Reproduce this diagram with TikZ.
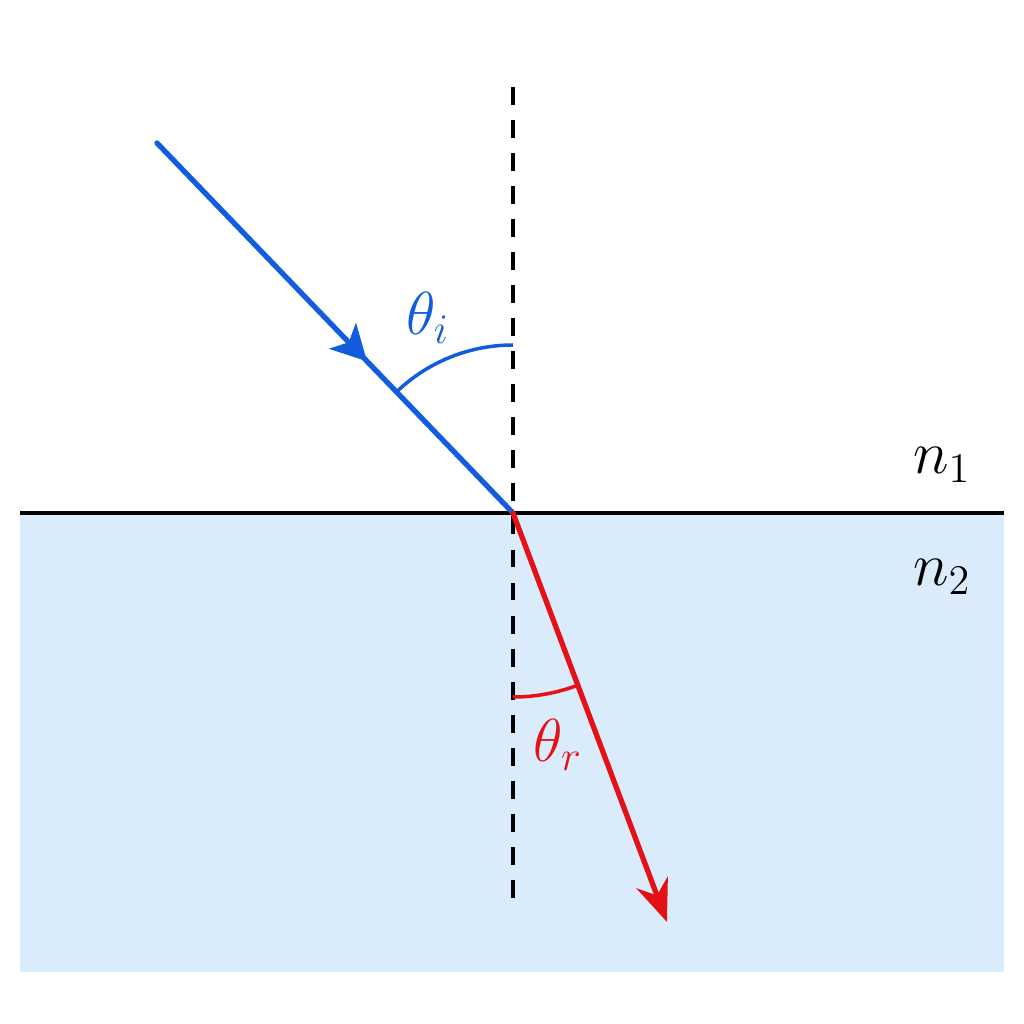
\documentclass[tikz,border=0pt]{standalone}
\usepackage{tikz}
\usetikzlibrary{arrows.meta,decorations.markings,positioning,calc}

\definecolor{rayblue}{RGB}{18,92,222}
\definecolor{rayred}{RGB}{228,18,22}
\definecolor{water}{RGB}{218,236,251}

\begin{document}
\begin{tikzpicture}[
        semithick,
        >={Stealth[length=12pt,width=9.5pt]}
    ]

    \tikzstyle{ray} = [line width=1.5pt,line cap=round]
    \tikzstyle{arc} = [line width=1pt]
    \tikzstyle{label} = [font=\fontsize{18}{21}\selectfont,inner sep=0pt]
    \tikzstyle{normal} = [line width=1.1pt,dash pattern=on 5.1pt off 4.3pt]

    \useasboundingbox (-5.13,-5.11) rectangle (5.11,5.13);

    % interface and the two media
    \coordinate (O) at (0,0);
    \coordinate (west) at (-4.93,0);
    \coordinate (east) at (4.91,0);
    \coordinate (floor) at (4.91,-4.59);
    \fill[water] (west) rectangle (floor);
    \draw[line width=1pt] (west) -- (east);

    % normal
    \coordinate (top) at (0,4.26);
    \coordinate (bot) at (0,-3.92);
    \draw[normal] (top) -- (bot);

    % rays
    \coordinate (src) at (-3.56,3.70);
    \coordinate (dst) at (1.54,-4.09);
    \draw[ray,rayblue,postaction={decorate},
        decoration={markings,mark=at position 0.59 with {\arrow{Stealth[length=10pt,width=10.5pt,inset=2.5pt]}}}]
        (src) -- (O);
    \draw[ray,rayred,->] (O) -- (dst);

    % angles
    \draw[arc,rayblue] (0,1.68) arc[start angle=90,end angle=134,radius=1.68];
    \draw[arc,rayred] (0,-1.84) arc[start angle=270,end angle=290.6,radius=1.84];

    \node[label,text=rayblue] (ti) at (-0.85,1.95) {$\theta_i$};
    \node[label,text=rayred] (tr) at (0.45,-2.32) {$\theta_r$};
    \node[label] (n1) at (4.29,0.48) {$n_1$};
    \node[label] (n2) at (4.29,-0.64) {$n_2$};

\end{tikzpicture}
\end{document}
